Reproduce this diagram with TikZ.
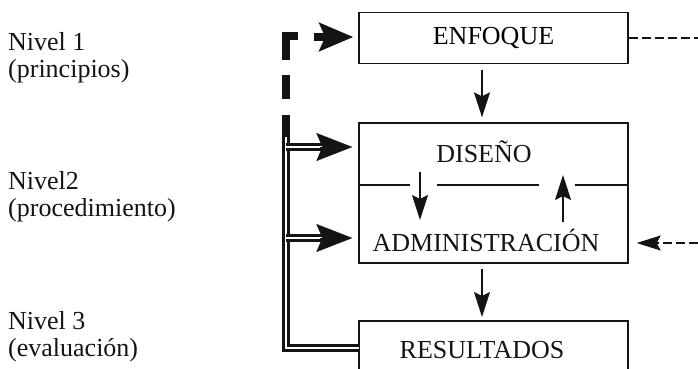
\documentclass[tikz,border=0pt]{standalone}
\usepackage{fontspec}
\setmainfont{Liberation Serif}
\usetikzlibrary{arrows.meta,positioning}
\definecolor{ink}{RGB}{20,20,20}
\def\Lx{359}
\def\Rx{628}
\def\Cx{493.5}
\def\Ax{482}
\def\Bx{286}
\tikzset{
  box/.style={draw=ink, line width=1.3pt, minimum width=269pt, inner sep=0pt,
    font=\fontsize{26}{27}\selectfont},
  txt/.style={font=\fontsize{26}{27}\selectfont, text=ink, inner sep=0pt},
  lvl/.style={txt, anchor=west, align=left},
  arr/.style={-{Stealth[length=25pt,width=16pt,inset=4pt]}, line width=1.4pt, draw=ink},
  dsh/.style={line width=1.5pt, dash pattern=on 9pt off 4pt, draw=ink},
  bus/.style={line width=8pt, draw=ink},
  dbl/.style={double=white, double distance=2.4pt, line width=3.2pt, draw=ink},
  bighead/.style={-{Stealth[length=36pt,width=28pt,inset=6pt]}, line width=0.4pt, draw=ink, fill=ink},
}

\begin{document}
\begin{tikzpicture}[x=1pt,y=-1pt]
  \useasboundingbox (0,0) rectangle (698,369);

  % niveles
  \node[lvl] (n1) at (8,57.5) {Nivel 1\\(principios)};
  \node[lvl] (n2) at (8,196.5) {Nivel2\\(procedimiento)};
  \node[lvl] (n3) at (8,336.5) {Nivel 3\\(evaluación)};

  % cajas
  \node[box, minimum height=51pt] (enf) at (\Cx,38) {ENFOQUE};
  \node[box, minimum height=140pt] (pro) at (\Cx,193) {};
  \node[txt] (dis) at (484,152) {DISEÑO};
  \node[txt] (adm) at (486,240) {ADMINISTRACIÓN};
  \node[txt] (res) at (482,350) {RESULTADOS};
  \coordinate (rsw) at (\Lx,369);
  \coordinate (rse) at (\Rx,369);
  \coordinate (rtop) at (\Ax,321);
  \draw[ink, line width=1.3pt] (rsw) |- (\Rx,321) -- (rse);

  % linea divisoria
  \draw[ink, line width=1.3pt] (pro.west |- 0,185) -- (410,185)
    (437,185) -- (539,185) (575,185) -- (pro.east |- 0,185);

  % flujo
  \draw[arr, shorten <=6pt, shorten >=5pt] (enf.south -| \Ax,0) -- (pro.north -| \Ax,0);
  \draw[arr, shorten <=5pt, shorten >=4pt] (pro.south -| \Ax,0) -- (rtop);
  \draw[arr] (420,172) -- (420,220);
  \draw[arr] (563,222) -- (563,175);

  % retroalimentacion
  \draw[dsh] (enf.east) -- (698,38);
  \draw[dsh, -{Stealth[length=24pt,width=15pt,inset=4pt]}, shorten >=8pt] (698,243) -- (pro.east |- 0,243);

  % barra izquierda
  \coordinate (bt) at (298,36);
  \draw[bus] (bt) -- (\Bx,36) -- (\Bx,60);
  \draw[bus, dash pattern=on 24pt off 16pt] (\Bx,75) -- (\Bx,137);
  \draw[dbl] (\Bx,137) -- (\Bx,348) -- (rsw |- 0,348);
  \draw[line width=8pt, draw=ink, -{Stealth[length=34pt,width=28pt,inset=6pt]}, shorten >=5pt] (314,37) -- (enf.west |- 0,37);
  \draw[dbl] (\Bx,147) -- (322,147);
  \draw[bighead, shorten >=6pt] (320,147) -- (pro.west |- 0,147);
  \draw[dbl] (\Bx,238) -- (322,238);
  \draw[bighead, shorten >=6pt] (320,238) -- (pro.west |- 0,238);
\end{tikzpicture}
\end{document}
